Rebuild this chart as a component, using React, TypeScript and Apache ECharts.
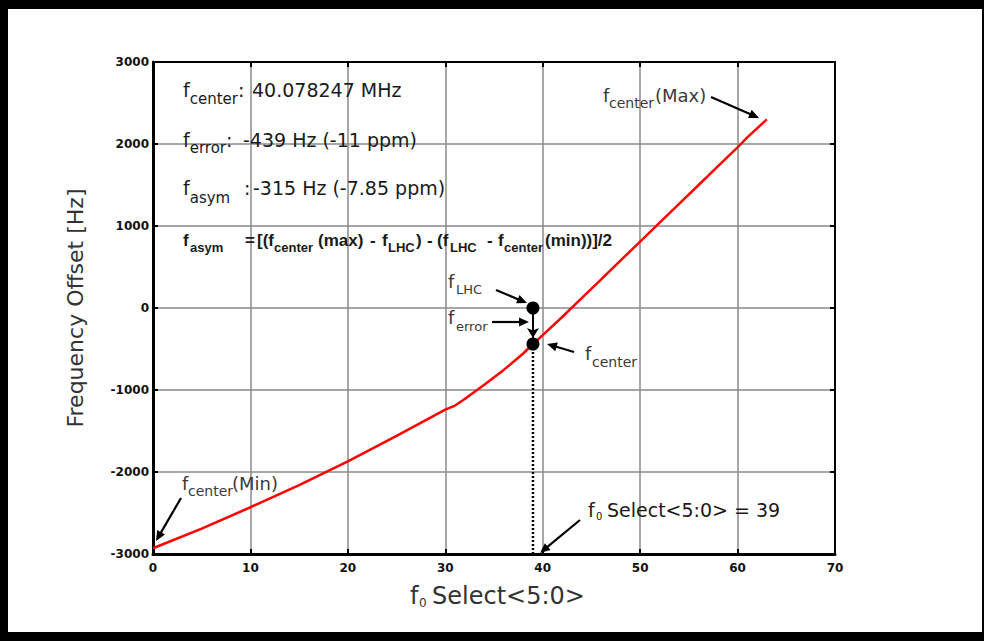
import React, { useEffect, useRef } from "react";
import * as echarts from "echarts";

// ---- data ----
const selectCodes = [0, 5, 10, 15, 20, 25, 30, 31, 32, 34, 36, 38, 39, 40, 42, 44, 46, 48, 50, 52, 54, 56, 58, 60, 61, 62, 63];
const offsetHz = [-2930, -2690, -2430, -2160, -1870, -1560, -1240, -1190, -1110, -935, -755, -555, -439, -330, -110, 120, 350, 580, 810, 1040, 1270, 1500, 1730, 1960, 2080, 2190, 2300];
const xTicks = { min: 0, max: 70, interval: 10 };
const yTicks = { min: -3000, max: 3000, interval: 1000 };
const selectedCode = 39;
const lhcOffset = 0;
const centerOffset = -439;

const W = 984;
const H = 641;
const FAM = "'DejaVu Sans', sans-serif";
const BFAM = "'Liberation Sans', Arial, sans-serif";

const canvas = typeof document !== "undefined" ? document.createElement("canvas") : null;
const ctx = canvas ? canvas.getContext("2d") : null;
function tw(text: string, size: number, family: string, weight = "normal") {
  if (!ctx) return text.length * size * 0.6;
  ctx.font = `${weight} ${size}px ${family}`;
  return ctx.measureText(text).width;
}

function txt(x: number, base: number, text: string, size: number, family: string, color: string, weight = "normal") {
  return {
    type: "text",
    z: 100,
    x,
    y: base - 0.35 * size,
    style: {
      text,
      fontSize: size,
      fontFamily: family,
      fontWeight: weight,
      fill: color,
      align: "left",
      verticalAlign: "middle",
    },
  };
}

type Seg = { t: string; sub?: boolean; x?: number; size?: number };
function flow(x: number, base: number, segs: Seg[], size: number, subSize: number, drop: number, family: string, color: string, weight = "normal") {
  const out: any[] = [];
  let cx = x;
  for (const s of segs) {
    const sz = s.size ?? (s.sub ? subSize : size);
    const b = s.sub ? base + drop : base;
    if (s.x !== undefined) cx = s.x;
    out.push(txt(cx, b, s.t, sz, family, color, weight));
    cx += tw(s.t, sz, family, weight);
  }
  return out;
}

function arrow(x1: number, y1: number, x2: number, y2: number, color = "#000") {
  const dx = x2 - x1;
  const dy = y2 - y1;
  const len = Math.sqrt(dx * dx + dy * dy);
  const ux = dx / len;
  const uy = dy / len;
  const hl = 10;
  const hw = 4.5;
  const bx = x2 - ux * hl;
  const by = y2 - uy * hl;
  return [
    { type: "line", z: 100, shape: { x1, y1, x2: bx + ux * 2, y2: by + uy * 2 }, style: { stroke: color, lineWidth: 2.2 } },
    {
      type: "polygon",
      z: 100,
      shape: { points: [[x2, y2], [bx - uy * hw, by + ux * hw], [bx + uy * hw, by - ux * hw]] },
      style: { fill: color },
    },
  ];
}

export default function App() {
  const ref = useRef<HTMLDivElement>(null);
  useEffect(() => {
    if (!ref.current) return;
    const chart = echarts.init(ref.current, undefined, { renderer: "svg" });
    const curve = selectCodes.map((c, i) => [c, offsetHz[i]]);
    const TXT = "#1a1a1a";
    const CAL = "#3a3a3a";

    const graphics: any[] = [
      // black frame
      { type: "rect", z: 200, shape: { x: 0, y: 0, width: W, height: 9 }, style: { fill: "#000" } },
      { type: "rect", z: 200, shape: { x: 0, y: 0, width: 8, height: H }, style: { fill: "#000" } },
      { type: "rect", z: 200, shape: { x: 0, y: 632, width: W, height: 9 }, style: { fill: "#000" } },
      { type: "rect", z: 200, shape: { x: 982, y: 0, width: 2, height: H }, style: { fill: "#000" } },
      // info rows
      ...flow(183, 97, [{ t: "f" }, { t: "center", sub: true }, { t: ": " }, { t: "40.078247 MHz", x: 252 }], 19, 15, 7, FAM, TXT),
      ...flow(183, 147, [{ t: "f" }, { t: "error", sub: true }, { t: ": " }, { t: "-439 Hz (-11 ppm)", x: 243 }], 19, 15, 6, FAM, TXT),
      ...flow(183, 195, [{ t: "f" }, { t: "asym", sub: true }, { t: ":", x: 244 }, { t: "-315 Hz (-7.85 ppm)", x: 253 }], 19, 15, 8, FAM, TXT),
      ...flow(
        183,
        246,
        [
          { t: "f" },
          { t: "asym", sub: true, x: 190 },
          { t: "=", x: 245 },
          { t: "[(f", x: 257 },
          { t: "center", sub: true, x: 274 },
          { t: "(max)", x: 318 },
          { t: "-", x: 370 },
          { t: "f", x: 382 },
          { t: "LHC", sub: true, x: 388 },
          { t: ")", x: 416 },
          { t: "-", x: 427 },
          { t: "(f", x: 437 },
          { t: "LHC", sub: true, x: 450 },
          { t: "-", x: 487 },
          { t: "f", x: 498 },
          { t: "center", sub: true, x: 504 },
          { t: "(min))]/2", x: 545 },
        ],
        17,
        13,
        6,
        BFAM,
        TXT,
        "bold"
      ),
      // callouts
      ...flow(448, 288, [{ t: "f" }, { t: "LHC", sub: true, x: 456 }], 18, 13, 6, FAM, CAL),
      ...arrow(496, 290, 527, 303),
      ...flow(448, 324, [{ t: "f" }, { t: "error", sub: true, x: 456 }], 18, 13, 7, FAM, CAL),
      ...arrow(492, 322, 529, 322),
      ...flow(585, 360, [{ t: "f" }, { t: "center", sub: true, x: 592 }], 18, 14, 7, FAM, CAL),
      ...arrow(574, 352, 547, 344),
      ...flow(182, 490, [{ t: "f" }, { t: "center", sub: true, x: 188 }, { t: "(Min)", x: 232 }], 18, 14, 6, FAM, CAL),
      ...arrow(181, 498, 156, 541),
      ...flow(603, 102, [{ t: "f" }, { t: "center", sub: true, x: 609 }, { t: "(Max)", x: 655 }], 18, 14, 6, FAM, CAL),
      ...arrow(711, 97, 759, 118),
      ...flow(588, 517, [{ t: "f" }, { t: "0", sub: true, x: 596 }, { t: "Select<5:0> = 39", x: 607 }], 19, 10, 3, FAM, TXT),
      ...arrow(580, 520, 540, 553),
      // axis titles
      ...flow(410, 604, [{ t: "f" }, { t: "0", sub: true, x: 419 }, { t: "Select<5:0>", x: 432 }], 24, 12, 3, FAM, "#333"),
      {
        type: "text",
        z: 100,
        x: 75,
        y: 308,
        rotation: Math.PI / 2,
        style: {
          text: "Frequency Offset [Hz]",
          fontSize: 22,
          fontFamily: FAM,
          fill: "#333",
          align: "center",
          verticalAlign: "middle",
        },
      },
    ];

    const axisLabel = {
      fontFamily: FAM,
      fontWeight: "bold" as const,
      fontSize: 12,
      color: "#111",
      formatter: (v: number) => String(v),
    };
    chart.setOption({
      animation: false,
      backgroundColor: "#fff",
      grid: { left: 153, right: W - 835, top: 62, bottom: H - 554, containLabel: false },
      xAxis: [
        {
          type: "value",
          position: "bottom",
          ...xTicks,
          axisLine: { onZero: false, lineStyle: { color: "#000", width: 3 } },
          axisTick: { inside: true, length: 5, lineStyle: { color: "#000", width: 2 } },
          axisLabel: { ...axisLabel, margin: 8 },
          splitLine: { show: true, lineStyle: { color: "#8a8a8a", width: 1.5 } },
        },
        {
          type: "value",
          position: "top",
          ...xTicks,
          axisLine: { show: true, onZero: false, lineStyle: { color: "#000", width: 2 } },
          axisTick: { show: true, inside: true, length: 5, lineStyle: { color: "#000", width: 2 } },
          axisLabel: { show: false },
          splitLine: { show: false },
        },
      ],
      yAxis: [
        {
          type: "value",
          position: "left",
          ...yTicks,
          axisLine: { show: true, onZero: false, lineStyle: { color: "#000", width: 3 } },
          axisTick: { show: true, inside: true, length: 5, lineStyle: { color: "#000", width: 2 } },
          axisLabel: { ...axisLabel, margin: 4 },
          splitLine: { show: true, lineStyle: { color: "#8a8a8a", width: 1.5 } },
        },
        {
          type: "value",
          position: "right",
          ...yTicks,
          axisLine: { show: true, onZero: false, lineStyle: { color: "#000", width: 2 } },
          axisTick: { show: true, inside: true, length: 5, lineStyle: { color: "#000", width: 2 } },
          axisLabel: { show: false },
          splitLine: { show: false },
        },
      ],
      series: [
        {
          type: "line",
          data: curve,
          showSymbol: false,
          smooth: false,
          lineStyle: { color: "#ff0000", width: 2.5 },
          z: 5,
        },
        {
          type: "line",
          data: [
            [selectedCode, centerOffset],
            [selectedCode, yTicks.min],
          ],
          showSymbol: false,
          lineStyle: { color: "#000", width: 2.5, type: [2, 2] },
          z: 6,
        },
        {
          type: "scatter",
          data: [
            [selectedCode, lhcOffset],
            [selectedCode, centerOffset],
          ],
          symbol: "circle",
          symbolSize: 13,
          itemStyle: { color: "#000", opacity: 1 },
          z: 10,
          markLine: {
            silent: true,
            symbol: ["none", "arrow"],
            symbolSize: [9, 10],
            label: { show: false },
            lineStyle: { color: "#000", width: 2, type: "solid" },
            data: [[{ coord: [selectedCode, lhcOffset] }, { coord: [selectedCode, -365] }]],
          },
        },
      ],
      graphic: graphics,
    });
    return () => chart.dispose();
  }, []);
  return (
    <div
      ref={ref}
      style={{ position: "fixed", left: 0, top: 0, width: W, height: H, background: "#fff" }}
    />
  );
}
